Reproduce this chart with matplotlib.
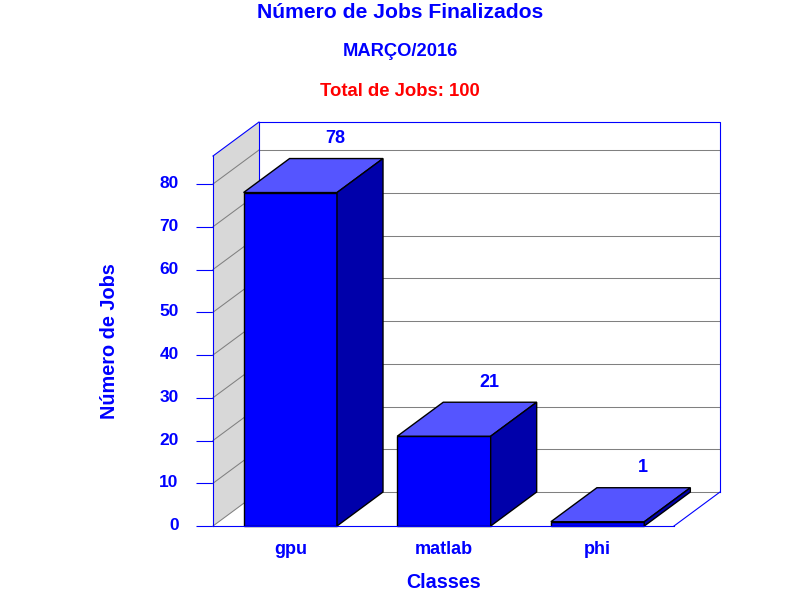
import matplotlib
matplotlib.use("Agg")
from matplotlib import pyplot as plt
from matplotlib.patches import Polygon
from matplotlib.transforms import ScaledTranslation

classes = ['gpu', 'matlab', 'phi']
jobs = [78, 21, 1]
y_ticks = [0, 10, 20, 30, 40, 50, 60, 70, 80]

BLUE = '#0000ff'
TOP = '#5555ff'
SIDE = '#0000aa'
WALL = '#d8d8d8'
GRID = '#808080'

plt.rcParams['font.family'] = ['Liberation Sans', 'DejaVu Sans']
plt.rcParams['font.weight'] = 'bold'

fig = plt.figure(figsize=(8, 6), dpi=100)

# front plane of the fake 3d box, pixels
ax = fig.add_axes([213/800, (600-526)/600, 461/800, 370/600])
ax.set_xlim(0, 3)
ax.set_ylim(0, 86.55)
ax.patch.set_visible(False)

# depth offset in data units
dx = 46/461*3
dy = 34/370*86.55
ymax = 86.55

# side wall
ax.add_patch(Polygon([(0, 0), (dx, dy), (dx, ymax+dy), (0, ymax)],
                     closed=True, fc=WALL, ec='none', clip_on=False, zorder=1))

# grid on wall and back
for v in y_ticks:
    ax.plot([0, dx], [v, v+dy], color=GRID, lw=0.75, clip_on=False, zorder=2)
    ax.plot([dx, 3+dx], [v+dy, v+dy], color=GRID, lw=0.75, clip_on=False, zorder=2)

# box outline
ax.plot([dx, dx, 3+dx, 3+dx], [dy, ymax+dy, ymax+dy, dy], color=BLUE, lw=0.8, clip_on=False, zorder=3)
ax.plot([0, dx], [ymax, ymax+dy], color=BLUE, lw=0.8, clip_on=False, zorder=3)
ax.plot([3, 3+dx], [0, dy], color=BLUE, lw=0.8, clip_on=False, zorder=3)

# bars
w = 0.608
for i, v in enumerate(jobs):
    c = i + 0.503
    x0 = c - w/2
    x1 = c + w/2
    ax.bar(c, v, width=w, color=BLUE, edgecolor='black', linewidth=1, zorder=5, clip_on=False)
    ax.add_patch(Polygon([(x0, v), (x0+dx, v+dy), (x1+dx, v+dy), (x1, v)],
                         closed=True, fc=TOP, ec='black', lw=1, clip_on=False, zorder=5))
    ax.add_patch(Polygon([(x1, 0), (x1+dx, dy), (x1+dx, v+dy), (x1, v)],
                         closed=True, fc=SIDE, ec='black', lw=1, clip_on=False, zorder=5))
    ax.annotate(str(v), (c + dx, v + dy), xytext=(-1, 20), textcoords='offset pixels',
                ha='center', va='center', color=BLUE, fontsize=13)

for s in ['top', 'right']:
    ax.spines[s].set_visible(False)
ax.spines['left'].set_color(BLUE)
ax.spines['bottom'].set_color(BLUE)
ax.spines['left'].set_zorder(4)
ax.spines['bottom'].set_zorder(6)

ax.set_yticks(y_ticks)
ax.set_xticks([i + 0.503 for i in range(len(classes))])
ax.set_xticklabels(classes)
ax.tick_params(axis='x', length=0, pad=11, labelsize=13, labelcolor=BLUE)
ax.tick_params(axis='y', length=12.2, width=0.8, color=BLUE, pad=12.5, labelsize=12.5, labelcolor=BLUE)

# tick labels sit a bit above their ticks in the original
for lab in ax.get_yticklabels():
    lab.set_transform(lab.get_transform() + ScaledTranslation(0, 2/100, fig.dpi_scale_trans))

fig.text(400/800, 1-13/600, 'Número de Jobs Finalizados', color=BLUE, fontsize=15.2, ha='center', va='center')
fig.text(400/800, 1-52/600, 'MARÇO/2016', color=BLUE, fontsize=13.2, ha='center', va='center')
fig.text(400/800, 1-92/600, 'Total de Jobs: 100', color='#ff0000', fontsize=13.3, ha='center', va='center')
fig.text(109/800, 1-341/600, 'Número de Jobs', color=BLUE, fontsize=14.3, rotation=90, ha='center', va='center')
fig.text(444/800, 1-582/600, 'Classes', color=BLUE, fontsize=14.2, ha='center', va='center')

fig.savefig('out.png', dpi=100)
